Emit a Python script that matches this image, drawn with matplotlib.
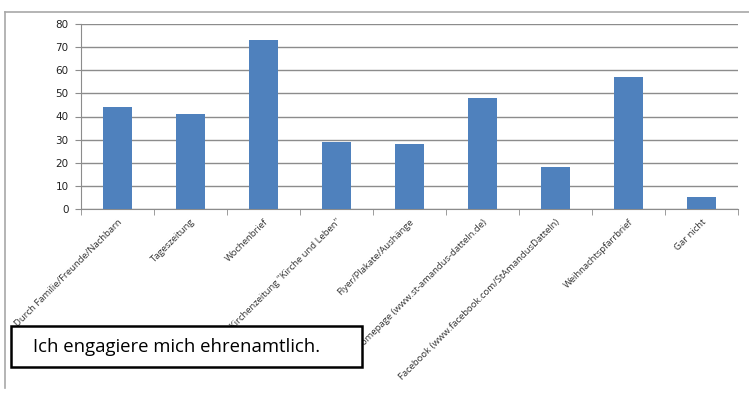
import matplotlib.pyplot as plt
import matplotlib.patches as patches
import matplotlib.lines as mlines
import numpy as np

# Data
categories = ['Durch Familie/Freunde/Nachbarn', 'Tageszeitung', 'Wochenbrief',
              'Kirchenzeitung "Kirche und Leben"', 'Flyer/Plakate/Aushänge',
              'Homepage (www.st-amandus-datteln.de)',
              'Facebook (www.facebook.com/StAmandusDatteln)',
              'Weihnachtspfarrbrief', 'Gar nicht']
values = [44, 41, 73, 29, 28, 48, 18, 57, 5]
yticks = [0, 10, 20, 30, 40, 50, 60, 70, 80]

W, H = 749, 394
fig = plt.figure(figsize=(W / 100, H / 100), dpi=100)
fig.patch.set_facecolor('white')

ax = fig.add_axes([81 / W, 1 - 209 / H, (738 - 81) / W, (209 - 24) / H])
x = np.arange(len(values))
ax.bar(x, values, width=0.4, color='#4F81BD', zorder=3)

ax.set_xlim(-0.5, len(values) - 0.5)
ax.set_ylim(0, 80)
ax.set_yticks(yticks)
ax.yaxis.grid(True, color='#8c8c8c', linewidth=1.0, zorder=0)
for s in ['top', 'right']:
    ax.spines[s].set_visible(False)
ax.spines['left'].set_color('#8c8c8c')
ax.spines['bottom'].set_color('#8c8c8c')
ax.tick_params(axis='y', labelsize=7.5, colors='#8c8c8c', labelcolor='#222222',
               length=4, direction='out', pad=5)

# category labels at centers, tick marks at boundaries
ax.set_xticks(x)
ax.set_xticklabels(categories, rotation=45, ha='right', va='top',
                   rotation_mode='anchor', fontsize=6.8, color='#333333',
                   family='Open Sans')
ax.tick_params(axis='x', which='major', length=0, pad=6)
ax.set_xticks(np.arange(len(values) + 1) - 0.5, minor=True)
ax.tick_params(axis='x', which='minor', length=4, color='#8c8c8c', direction='out')

# outer chart border (top and left visible)
fig.add_artist(mlines.Line2D([5 / W, 5 / W], [1 - 12 / H, 1 - 388 / H],
                             color='#a8a8a8', linewidth=1.2))
fig.add_artist(mlines.Line2D([5 / W, 1.0], [1 - 12 / H, 1 - 12 / H],
                             color='#a8a8a8', linewidth=1.2))

# overlay text box
fig.add_artist(patches.Rectangle((11 / W, 1 - 367 / H), (362 - 11) / W, (367 - 326) / H,
                                 facecolor='white', edgecolor='black', linewidth=1.8,
                                 zorder=10))
fig.text(33 / W, 1 - 347 / H, 'Ich engagiere mich ehrenamtlich.', fontsize=13.3,
         family='Open Sans', va='center', ha='left', color='black', zorder=11)

plt.savefig('out.png', dpi=100)
